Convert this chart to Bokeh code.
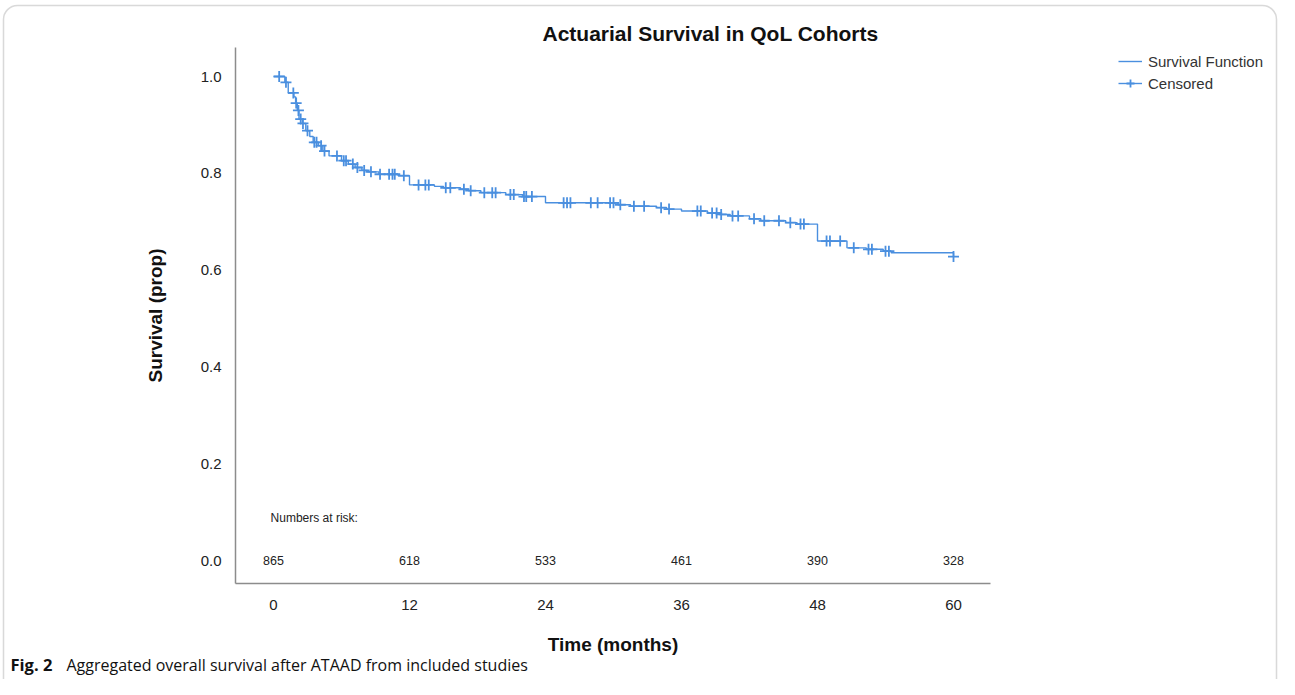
import numpy as np
from bokeh.plotting import figure
from bokeh.models import (Range1d, FixedTicker, PrintfTickFormatter, Label, Legend,
                          LegendItem, BoxAnnotation)
from bokeh.core.properties import value
from bokeh.embed import file_html
from bokeh.resources import INLINE

# ---- data ----
step_times = [0.0, 1.0, 1.3, 1.8, 1.95, 2.1, 2.25, 2.55, 2.85, 3.2, 3.5, 3.95, 4.35, 4.9,
              6.0, 6.6, 7.2, 7.8, 8.3, 9.3, 11.0, 12.0, 14.2, 15.0, 16.5, 17.2, 18.3,
              20.5, 22.0, 24.0, 30.4, 31.5, 33.8, 34.7, 36.0, 38.3, 39.3, 40.3, 42.0,
              43.0, 45.2, 46.2, 48.0, 50.6, 52.3, 53.8, 54.5, 60.0]
step_surv = [1.000, 0.988, 0.966, 0.958, 0.945, 0.930, 0.912, 0.903, 0.888, 0.876, 0.864,
             0.857, 0.846, 0.836, 0.826, 0.819, 0.812, 0.806, 0.803, 0.798, 0.795, 0.776,
             0.773, 0.770, 0.767, 0.764, 0.760, 0.756, 0.752, 0.739, 0.735, 0.732, 0.729,
             0.726, 0.722, 0.718, 0.715, 0.712, 0.706, 0.702, 0.698, 0.695, 0.660, 0.646,
             0.643, 0.639, 0.636, 0.628]
censor_times = [0.5, 1.1, 1.75, 2.0, 2.2, 2.4, 2.6, 3.0, 3.6, 3.8, 4.2, 4.5, 5.6, 6.2, 6.4,
                7.0, 7.4, 8.0, 8.6, 9.4, 10.2, 10.5, 10.7, 11.5, 12.8, 13.4, 13.7, 15.2,
                15.6, 16.8, 17.4, 18.6, 19.3, 19.6, 20.9, 21.2, 22.1, 22.3, 22.8, 25.6,
                25.9, 26.2, 28.0, 28.6, 29.7, 30.0, 30.6, 31.8, 32.7, 34.2, 34.9, 37.4,
                37.7, 38.7, 39.1, 39.5, 40.5, 41.0, 42.4, 43.3, 44.6, 45.6, 46.5, 46.8,
                48.8, 49.1, 50.0, 51.2, 52.5, 52.8, 54.0, 54.3, 60.0]
risk_times = [0, 12, 24, 36, 48, 60]
risk_counts = ["865", "618", "533", "461", "390", "328"]
x_ticks = [0, 12, 24, 36, 48, 60]
y_ticks = [0.0, 0.2, 0.4, 0.6, 0.8, 1.0]

# survival value at each censoring time (right-continuous step function)
idx = np.searchsorted(np.array(step_times), np.array(censor_times), side="right") - 1
censor_surv = [step_surv[i] for i in idx]

BLUE = "#4a8fdf"
AX = "#8c8c8c"
FONT = "Liberation Sans"

W, H = 1279, 679
# the plotting frame covers the whole canvas; axes sit at fixed data positions
PX_X = 680.0 / 60.0      # pixels per month
PX_Y = 484.0             # pixels per unit of survival
X0, Y0 = 273.0, 560.0    # canvas position of (0, 0)
x_lo, x_hi = -X0 / PX_X, (W - X0) / PX_X
y_lo, y_hi = -(H - Y0) / PX_Y, Y0 / PX_Y
ax_x_lo, ax_x_hi = (235 - X0) / PX_X, (990 - X0) / PX_X
ax_y_lo, ax_y_hi = -(583 - Y0) / PX_Y, (Y0 - 47) / PX_Y

p = figure(width=W, height=H, output_backend="svg", toolbar_location=None,
           x_range=Range1d(x_lo, x_hi), y_range=Range1d(y_lo, y_hi),
           min_border=0, min_border_left=0, min_border_right=0,
           min_border_top=0, min_border_bottom=0)
p.title.visible = False
p.background_fill_color = "white"
p.border_fill_color = "white"
p.outline_line_color = None
p.xgrid.visible = False
p.ygrid.visible = False

for ax in (p.xaxis[0], p.yaxis[0]):
    ax.axis_line_color = AX
    ax.axis_line_width = 1.5
    ax.major_tick_line_color = None
    ax.minor_tick_line_color = None
    ax.major_tick_out = 0
    ax.major_tick_in = 0
    ax.major_label_text_font = FONT
    ax.major_label_text_font_size = "15px"
    ax.major_label_text_color = "#222222"
    ax.axis_label_text_font = FONT
    ax.axis_label_text_font_style = "bold"
    ax.axis_label_text_font_size = "19px"
    ax.axis_label_text_color = "#111111"

p.xaxis.fixed_location = ax_y_lo
p.yaxis.fixed_location = ax_x_lo
p.xaxis.bounds = (ax_x_lo, ax_x_hi)
p.yaxis.bounds = (ax_y_lo, ax_y_hi)
p.xaxis.ticker = FixedTicker(ticks=x_ticks)
p.yaxis.ticker = FixedTicker(ticks=y_ticks)
p.yaxis.formatter = PrintfTickFormatter(format="%.1f")
p.xaxis.major_label_standoff = 16
p.yaxis.major_label_standoff = 14
p.xaxis.axis_label = "Time (months)"
p.yaxis.axis_label = "Survival (prop)"
p.xaxis.axis_label_standoff = 21
p.yaxis.axis_label_standoff = 32

step_r = p.step(step_times, step_surv, mode="after", line_color=BLUE, line_width=1.4)
cens_r = p.scatter(censor_times, censor_surv, marker="cross", size=11,
                   line_color=BLUE, line_width=1.8)

# numbers at risk
p.text(x=risk_times, y=[0.0] * len(risk_times), text=risk_counts,
       text_font=value(FONT), text_font_size="12.5px", text_color="#222222",
       text_align="center", text_baseline="middle")
p.add_layout(Label(x=-0.26, y=0.087, text="Numbers at risk:", text_font=FONT,
                   text_font_size="12px", text_color="#222222",
                   text_align="left", text_baseline="middle"))

# title (screen units: frame == canvas, y measured upward from the bottom)
p.add_layout(Label(x=710, y=H - 33, x_units="screen", y_units="screen",
                   text="Actuarial Survival in QoL Cohorts", text_font=FONT,
                   text_font_size="21px", text_font_style="bold", text_color="#111111",
                   text_align="center", text_baseline="middle"))

# legend
legend = Legend(items=[LegendItem(label="Survival Function", renderers=[step_r]),
                       LegendItem(label="Censored", renderers=[step_r, cens_r])],
                location=(1118, H - 93), padding=0, margin=0, spacing=2,
                glyph_width=24, glyph_height=20, label_height=20, label_standoff=6,
                label_text_font=FONT, label_text_font_size="15px",
                label_text_color="#333333", border_line_color=None,
                background_fill_alpha=0)
p.add_layout(legend)

# caption (kept fully inside the canvas)
p.add_layout(Label(x=10, y=4, x_units="screen", y_units="screen", text="Fig. 2",
                   text_font="Open Sans", text_font_size="16.5px", text_font_style="bold",
                   text_color="#111111", text_align="left", text_baseline="bottom"))
p.add_layout(Label(x=66, y=4, x_units="screen", y_units="screen",
                   text="Aggregated overall survival after ATAAD from included studies",
                   text_font="Open Sans", text_font_size="16px", text_color="#111111",
                   text_align="left", text_baseline="bottom"))

# rounded frame around the whole figure
p.add_layout(BoxAnnotation(left=3, right=W - 3, top=H - 5, bottom=-40,
                           left_units="screen", right_units="screen",
                           top_units="screen", bottom_units="screen",
                           fill_color=None, fill_alpha=0, line_color="#808080",
                           line_width=1.5, border_radius=14))

open("out.html", "w").write(file_html(p, INLINE))
